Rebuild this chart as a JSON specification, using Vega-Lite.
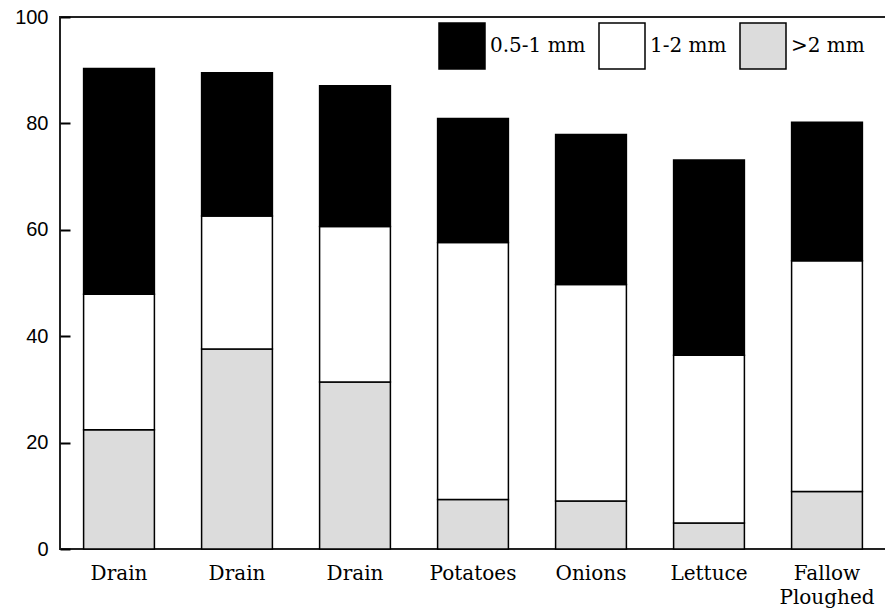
{
  "$schema": "https://vega.github.io/schema/vega-lite/v6.json",
  "width": 826,
  "height": 532,
  "autosize": {"type": "none"},
  "padding": {"left": 60, "top": 17, "right": 0, "bottom": 67},
  "background": "white",
  "config": {"view": {"stroke": "#222222", "strokeWidth": 2}},
  "data": {
    "values": [
      {"crop": "Drain (1)", "size": ">2 mm", "pct": 22.4},
      {"crop": "Drain (1)", "size": "1-2 mm", "pct": 25.5},
      {"crop": "Drain (1)", "size": "0.5-1 mm", "pct": 42.4},
      {"crop": "Drain (2)", "size": ">2 mm", "pct": 37.6},
      {"crop": "Drain (2)", "size": "1-2 mm", "pct": 25.0},
      {"crop": "Drain (2)", "size": "0.5-1 mm", "pct": 26.9},
      {"crop": "Drain (3)", "size": ">2 mm", "pct": 31.4},
      {"crop": "Drain (3)", "size": "1-2 mm", "pct": 29.2},
      {"crop": "Drain (3)", "size": "0.5-1 mm", "pct": 26.5},
      {"crop": "Potatoes", "size": ">2 mm", "pct": 9.3},
      {"crop": "Potatoes", "size": "1-2 mm", "pct": 48.3},
      {"crop": "Potatoes", "size": "0.5-1 mm", "pct": 23.3},
      {"crop": "Onions", "size": ">2 mm", "pct": 9.0},
      {"crop": "Onions", "size": "1-2 mm", "pct": 40.7},
      {"crop": "Onions", "size": "0.5-1 mm", "pct": 28.2},
      {"crop": "Lettuce", "size": ">2 mm", "pct": 4.9},
      {"crop": "Lettuce", "size": "1-2 mm", "pct": 31.5},
      {"crop": "Lettuce", "size": "0.5-1 mm", "pct": 36.7},
      {"crop": "Fallow Ploughed", "size": ">2 mm", "pct": 10.8},
      {"crop": "Fallow Ploughed", "size": "1-2 mm", "pct": 43.4},
      {"crop": "Fallow Ploughed", "size": "0.5-1 mm", "pct": 26.0}
    ]
  },
  "mark": {"type": "bar", "stroke": "black", "strokeWidth": 1.5},
  "encoding": {
    "x": {
      "field": "crop",
      "type": "nominal",
      "sort": null,
      "scale": {"paddingInner": 0.4, "paddingOuter": 0.2},
      "axis": {
        "title": null,
        "ticks": false,
        "domain": false,
        "labelAngle": 0,
        "labelPadding": 14,
        "labelBaseline": "top",
        "labelFont": "DejaVu Serif",
        "labelFontSize": 20,
        "labelColor": "black",
        "labelLineHeight": 24,
        "labelExpr": "indexof(datum.value, 'Drain') === 0 ? 'Drain' : datum.value === 'Fallow Ploughed' ? ['Fallow', 'Ploughed'] : datum.value"
      }
    },
    "y": {
      "field": "pct",
      "type": "quantitative",
      "stack": "zero",
      "scale": {"domain": [0, 100], "nice": false},
      "axis": {
        "title": null,
        "grid": false,
        "domain": false,
        "zindex": 1,
        "values": [0, 20, 40, 60, 80, 100],
        "tickColor": "black",
        "tickWidth": 2,
        "tickSize": -10,
        "labelPadding": 22,
        "labelFont": "Liberation Sans",
        "labelFontSize": 20,
        "labelColor": "black"
      }
    },
    "color": {
      "field": "size",
      "type": "nominal",
      "scale": {"domain": ["0.5-1 mm", "1-2 mm", ">2 mm"], "range": ["#000000", "#ffffff", "#dcdcdc"]},
      "legend": {
        "title": null,
        "orient": "none",
        "legendX": 378,
        "legendY": 5,
        "direction": "horizontal",
        "symbolType": "square",
        "symbolSize": 2116,
        "symbolStrokeColor": "black",
        "symbolStrokeWidth": 1.5,
        "symbolOpacity": 1,
        "labelFont": "DejaVu Serif",
        "labelFontSize": 20,
        "labelColor": "black",
        "labelOffset": 4,
        "columnPadding": 10,
        "padding": 0
      }
    },
    "order": {"field": "size", "sort": "descending"}
  }
}
